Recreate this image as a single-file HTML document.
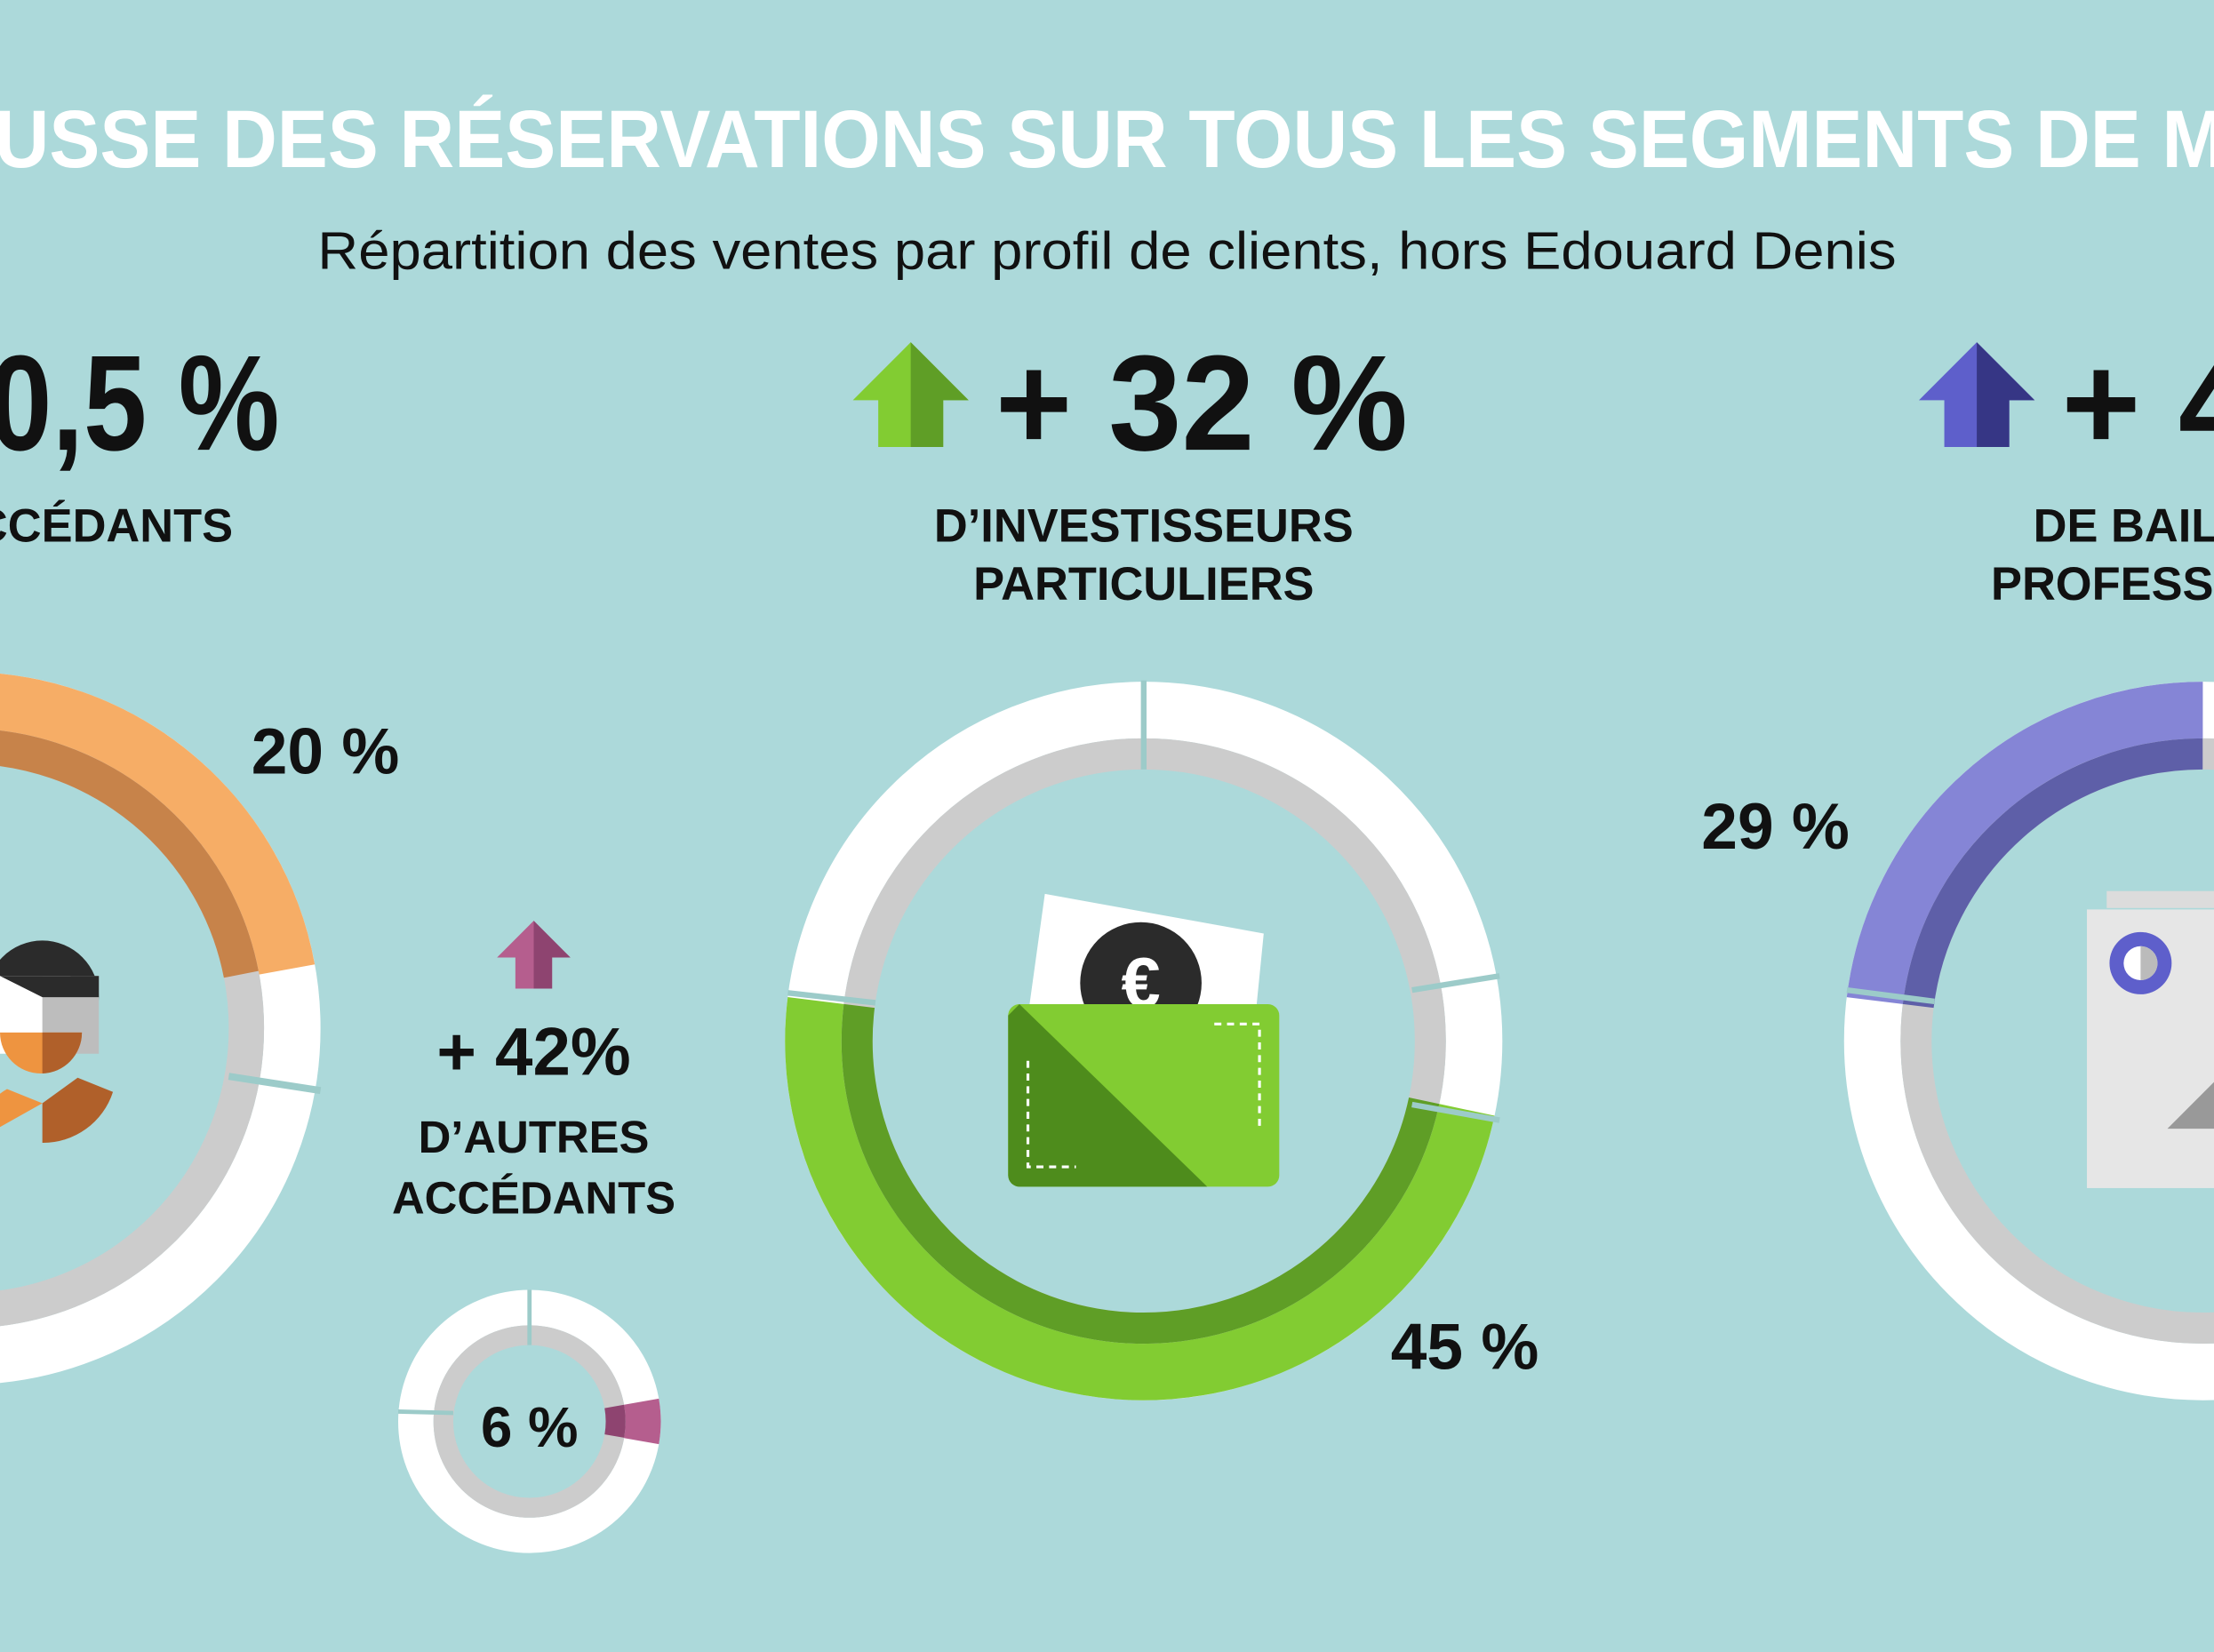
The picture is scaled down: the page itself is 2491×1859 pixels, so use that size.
<!DOCTYPE html>
<html><head><meta charset="utf-8"><style>
html,body{margin:0;padding:0;background:#acd9da;overflow:hidden}
svg{display:block}
text{font-family:"Liberation Sans","DejaVu Sans",sans-serif}
</style></head><body>
<svg width="2491" height="1859" viewBox="0 0 1568 1168" preserveAspectRatio="none" xmlns="http://www.w3.org/2000/svg">
<rect width="1568" height="1168" fill="#acd9da"/>
<text x="-4" y="118" font-size="58" font-weight="bold" fill="#fff" textLength="1580" lengthAdjust="spacingAndGlyphs">USSE DES RÉSERVATIONS SUR TOUS LES SEGMENTS DE M</text>
<text x="784" y="190" font-size="37" fill="#111" text-anchor="middle" textLength="1118" lengthAdjust="spacingAndGlyphs">Répartition des ventes par profil de clients, hors Edouard Denis</text>

<!-- LEFT -->
<text x="-8" y="318" font-size="96" font-weight="bold" fill="#111" textLength="206" lengthAdjust="spacingAndGlyphs">0,5 %</text>
<text x="165" y="383" font-size="33" font-weight="bold" fill="#111" text-anchor="end">CCÉDANTS</text>
<g transform="translate(-25,727)">
<circle r="232" fill="none" stroke="#fff" stroke-width="40"/>
<circle r="199.5" fill="none" stroke="#cccccc" stroke-width="25"/>
<circle r="232" fill="none" stroke="#f6ad66" stroke-width="40" stroke-dasharray="322.6 2000" transform="rotate(-90)"/>
<circle r="199.5" fill="none" stroke="#c7834a" stroke-width="25" stroke-dasharray="275 2000" transform="rotate(-90)"/>
<line x1="187" y1="34" x2="252" y2="44" stroke="#9ccbc9" stroke-width="5"/>
</g>
<!-- person -->
<g>
<circle cx="30" cy="705" r="40" fill="#2b2b2b"/>
<rect x="-10" y="690" width="60" height="55" fill="#fff"/>
<rect x="30" y="690" width="40" height="55" fill="#bdbdbd"/>
<path d="M0 690 L30 705 L70 705 L70 690 Z" fill="#2b2b2b"/>
<path d="M0 730 H58 A29 29 0 0 1 0 730 Z" fill="#ee9440"/>
<path d="M30 730 H58 A29 29 0 0 1 30 759 Z" fill="#b0602a"/>
<path d="M-20 808 A50 50 0 0 1 5 770 L30 780 Z" fill="#ee9440"/>
<path d="M30 808 L30 780 L55 762 L80 772 A52 52 0 0 1 30 808 Z" fill="#b0602a"/>
</g>
<text x="178" y="547" font-size="46" font-weight="bold" fill="#111">20 %</text>

<!-- small -->
<path d="M378 651 L404 677 L391 677 L391 699 L365 699 L365 677 L352 677 Z" fill="#b55e8e"/>
<path d="M378 651 L404 677 L391 677 L391 699 L378 699 Z" fill="#8e4470"/>
<text x="378" y="760" font-size="48" font-weight="bold" fill="#111" text-anchor="middle">+ 42%</text>
<text x="378" y="815" font-size="32" font-weight="bold" fill="#111" text-anchor="middle">D’AUTRES</text>
<text x="378" y="858" font-size="32" font-weight="bold" fill="#111" text-anchor="middle">ACCÉDANTS</text>
<g transform="translate(375,1005)">
<circle r="80.5" fill="none" stroke="#fff" stroke-width="25"/>
<circle r="61" fill="none" stroke="#cccccc" stroke-width="14"/>
<circle r="80.5" fill="none" stroke="#b55e8e" stroke-width="25" stroke-dasharray="28 2000" transform="rotate(-10)"/>
<circle r="61" fill="none" stroke="#8e4470" stroke-width="14" stroke-dasharray="21 2000" transform="rotate(-10)"/>
<line x1="0" y1="-54" x2="0" y2="-93" stroke="#9ccbc9" stroke-width="3"/>
<line x1="-54" y1="-6" x2="-93" y2="-7" stroke="#9ccbc9" stroke-width="3"/>
</g>
<text x="375" y="1023" font-size="40" font-weight="bold" fill="#111" text-anchor="middle">6 %</text>

<!-- CENTER -->
<path d="M645 242 L686 283 L668 283 L668 316 L622 316 L622 283 L604 283 Z" fill="#82cc32"/>
<path d="M645 242 L686 283 L668 283 L668 316 L645 316 Z" fill="#5f9e26"/>
<text x="705" y="318" font-size="96" font-weight="bold" fill="#111" textLength="292" lengthAdjust="spacingAndGlyphs">+ 32 %</text>
<text x="810" y="383" font-size="33" font-weight="bold" fill="#111" text-anchor="middle">D’INVESTISSEURS</text>
<text x="810" y="424" font-size="33" font-weight="bold" fill="#111" text-anchor="middle">PARTICULIERS</text>
<g transform="translate(810,736)">
<circle r="234" fill="none" stroke="#fff" stroke-width="40"/>
<circle r="203" fill="none" stroke="#cccccc" stroke-width="22"/>
<circle r="234" fill="none" stroke="#82cc32" stroke-width="40" stroke-dasharray="714.7 2000" transform="rotate(12)"/>
<circle r="203" fill="none" stroke="#5f9e26" stroke-width="22" stroke-dasharray="620 2000" transform="rotate(12)"/>
<line x1="0" y1="-192" x2="0" y2="-255" stroke="#9ccbc9" stroke-width="4"/>
<line x1="190" y1="-36" x2="252" y2="-46" stroke="#9ccbc9" stroke-width="4"/>
<line x1="190" y1="45" x2="252" y2="56" stroke="#9ccbc9" stroke-width="4"/>
<line x1="-190" y1="-27" x2="-252" y2="-34" stroke="#9ccbc9" stroke-width="4"/>
</g>
<!-- wallet -->
<path d="M740 632 L895 660 L885 760 L725 740 Z" fill="#fff"/>
<circle cx="808" cy="695" r="43" fill="#2b2b2b"/>
<text x="808" y="712" font-size="50" font-weight="bold" fill="#fff" text-anchor="middle">€</text>
<rect x="714" y="710" width="192" height="129" rx="8" fill="#82cc32"/>
<path d="M722 710 L855 839 L722 839 A8 8 0 0 1 714 831 L714 718 Z" fill="#4e8c1c"/>
<path d="M860 724 H892 V800 M728 750 V825 H762" fill="none" stroke="#fff" stroke-width="2" stroke-dasharray="5 4"/>
<text x="985" y="968" font-size="46" font-weight="bold" fill="#111">45 %</text>

<!-- RIGHT -->
<path d="M1400 242 L1441 283 L1423 283 L1423 316 L1377 316 L1377 283 L1359 283 Z" fill="#5e5fcb"/>
<path d="M1400 242 L1441 283 L1423 283 L1423 316 L1400 316 Z" fill="#363685"/>
<text x="1460" y="318" font-size="96" font-weight="bold" fill="#111">+ 4</text>
<text x="1440" y="383" font-size="33" font-weight="bold" fill="#111">DE BAIL</text>
<text x="1410" y="424" font-size="33" font-weight="bold" fill="#111">PROFESSI</text>
<g transform="translate(1560,736)">
<circle r="234" fill="none" stroke="#fff" stroke-width="40"/>
<circle r="203" fill="none" stroke="#cccccc" stroke-width="22"/>
<circle r="234" fill="none" stroke="#8585d6" stroke-width="40" stroke-dasharray="339 2000" transform="rotate(187)"/>
<circle r="203" fill="none" stroke="#5e5fa8" stroke-width="22" stroke-dasharray="294 2000" transform="rotate(187)"/>
<line x1="-190" y1="-28" x2="-252" y2="-36" stroke="#9ccbc9" stroke-width="4"/>
</g>
<rect x="1492" y="630" width="80" height="12" fill="#dcdcdc"/>
<rect x="1478" y="643" width="95" height="197" fill="#e6e6e6"/>
<circle cx="1516" cy="681" r="22" fill="#5e5fcb"/>
<circle cx="1516" cy="681" r="12" fill="#fff"/>
<path d="M1516 669 A12 12 0 0 1 1516 693 Z" fill="#bbb"/>
<path d="M1535 798 L1568 765 L1568 798 Z" fill="#999"/>
<text x="1205" y="600" font-size="46" font-weight="bold" fill="#111">29 %</text>
</svg>
</body></html>
